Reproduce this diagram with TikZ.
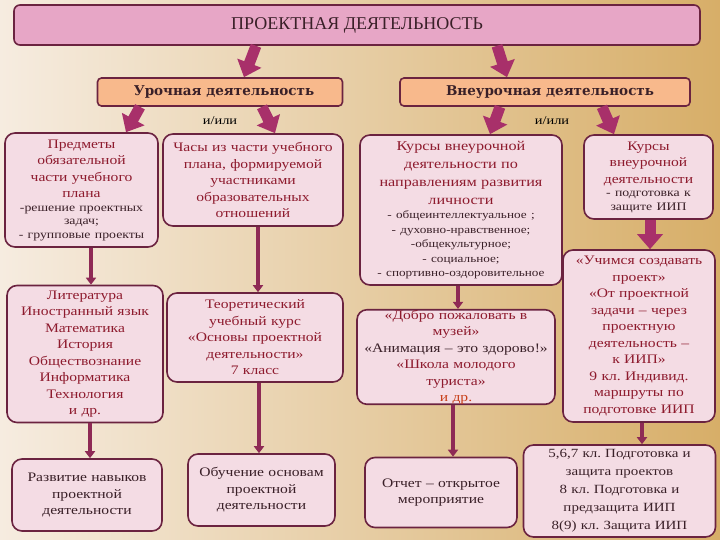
\documentclass[tikz,border=0pt]{standalone}
\usepackage{fontspec}
\setmainfont[FakeStretch=1.2]{Liberation Serif}
\newfontfamily\titlefont{Liberation Serif}
\newfontfamily\headfont{DejaVu Serif}
\usetikzlibrary{arrows.meta}
\definecolor{bgl}{HTML}{F6ECE0}
\definecolor{bgm}{HTML}{EBD3AE}
\definecolor{bgr}{HTML}{D7AE68}
\definecolor{bord}{HTML}{6B2340}
\definecolor{boxfill}{HTML}{F4DCE4}
\definecolor{titlefill}{HTML}{E7A6C6}
\definecolor{headfill}{HTML}{F8B98C}
\definecolor{arrowc}{HTML}{A8306A}
\definecolor{arrowt}{HTML}{8E2A55}
\definecolor{textred}{HTML}{8E1B2E}
\definecolor{textdark}{HTML}{3A2028}
\definecolor{textorange}{HTML}{C8401A}
\tikzset{
  bx/.style={draw=bord, line width=1.6pt, fill=boxfill, rounded corners=10pt,
    align=center, inner xsep=3pt, inner ysep=0pt, text=textred,
    font=\frenchspacing\fontsize{13}{16.5}\selectfont},
  hd/.style={draw=bord, line width=1.6pt, fill=headfill, rounded corners=4pt,
    text=textdark, font=\headfont\bfseries\fontsize{13.5}{16}\selectfont},
  fat/.style={line width=11pt, draw=arrowc, -{Triangle[width=25pt,length=15pt]}},
  thinarr/.style={line width=3.5pt, draw=arrowt, -{Triangle[width=10pt,length=7pt]}},
  lbl/.style={text=black, font=\fontsize{12}{14}\selectfont}
}
\newcommand{\smalldark}{\color{textdark}\fontsize{11.5}{13.5}\selectfont}
\begin{document}
\begin{tikzpicture}[x=1pt,y=-1pt]
\useasboundingbox (0,0) rectangle (720,540);
\shade[left color=bgl, middle color=bgm, right color=bgr] (0,0) rectangle (720,540);

% title
\node[draw=bord, line width=1.6pt, fill=titlefill, rounded corners=6pt,
  minimum width=686pt, minimum height=40pt, text=textdark,
  font=\titlefont\fontsize{18}{20}\selectfont] (title) at (357,25) {ПРОЕКТНАЯ ДЕЯТЕЛЬНОСТЬ};

% headers
\node[hd, minimum width=245pt, minimum height=28pt] (uroch) at (220,92) {\hspace*{8pt}Урочная деятельность};
\node[hd, minimum width=290pt, minimum height=28pt] (vne) at (545,92) {\hspace*{10pt}Внеурочная деятельность};

\node[lbl] (ili1) at (220,121) {и/или};
\node[lbl] (ili2) at (552,121) {и/или};

% row 1
\node[bx, minimum width=153pt, minimum height=114pt, text width=147pt] (A1) at (81.5,190)
 {Предметы\\обязательной\\части учебного\\плана\par
  {\smalldark -решение проектных\\задач;\\- групповые проекты\par}};
\node[bx, minimum width=180pt, minimum height=92pt, text width=174pt] (B1) at (253,180)
 {Часы из части учебного\\плана, формируемой\\участниками\\образовательных\\отношений};
\node[bx, minimum width=202pt, minimum height=150pt, text width=196pt] (C1) at (461,210)
 {{\fontsize{13.5}{18}\selectfont Курсы внеурочной\\деятельности по\\направлениям развития\\личности\par}
  {\smalldark\fontsize{11}{14.5}\selectfont - общеинтеллектуальное ;\\- духовно-нравственное;\\-общекультурное;\\- социальное;\\- спортивно-оздоровительное\par}};
\node[bx, minimum width=129pt, minimum height=84pt, text width=123pt] (D1) at (648.5,177)
 {Курсы\\внеурочной\\деятельности\par
  {\smalldark - подготовка к\\защите ИИП\par}};

% row 2
\node[bx, minimum width=156pt, minimum height=137pt, text width=150pt] (A2) at (85,354)
 {Литература\\Иностранный язык\\Математика\\История\\Обществознание\\Информатика\\Технология\\и др.};
\node[bx, minimum width=176pt, minimum height=89pt, text width=170pt] (B2) at (255,337.5)
 {Теоретический\\учебный курс\\«Основы проектной\\деятельности»\\7 класс};
\node[bx, minimum width=198pt, minimum height=82pt, text width=192pt] (C2) at (456,357)
 {«Добро пожаловать в\\музей»\\{\color{textdark}«Анимация – это здорово!»}\\«Школа молодого\\туриста»\\{\color{textorange}и др.}};
\node[bx, minimum width=152pt, minimum height=172pt, text width=146pt] (D2) at (639,336)
 {«Учимся создавать\\проект»\\«От проектной\\задачи – через\\проектную\\деятельность –\\к ИИП»\\9 кл. Индивид.\\маршруты по\\подготовке ИИП};

% row 3
\node[bx, text=textdark, minimum width=150pt, minimum height=72pt, text width=144pt] (A3) at (87,495)
 {Развитие навыков\\проектной\\деятельности};
\node[bx, text=textdark, minimum width=147pt, minimum height=72pt, text width=141pt] (B3) at (261.5,490)
 {Обучение основам\\проектной\\деятельности};
\node[bx, text=textdark, minimum width=152pt, minimum height=70pt, text width=146pt] (C3) at (441,492.5)
 {Отчет – открытое\\мероприятие};
\node[bx, text=textdark, minimum width=192pt, minimum height=92pt, text width=186pt,
  font=\frenchspacing\fontsize{12.5}{18}\selectfont] (D3) at (619.5,491)
 {5,6,7 кл. Подготовка и\\защита проектов\\8 кл. Подготовка и\\предзащита ИИП\\8(9) кл. Защита ИИП};

% fat arrows
\draw[fat] (title.south -| 256,0) -- (uroch.north -| 244,0);
\draw[fat] (title.south -| 497,0) -- (vne.north -| 507,0);
\draw[fat] (uroch.south -| 140,0) -- (A1.north -| 126,0);
\draw[fat] (uroch.south -| 262,0) -- (B1.north -| 275,0);
\draw[fat] (vne.south -| 500,0) -- (C1.north -| 490,0);
\draw[fat] (vne.south -| 602,0) -- (D1.north -| 614,0);
\draw[fat] (D1.south -| 650,0) -- (D2.north -| 650,0);

% thin arrows
\draw[thinarr] (A1.south -| 91,0) -- (A2.north -| 91,0);
\draw[thinarr] (A2.south -| 90,0) -- (A3.north -| 90,0);
\draw[thinarr] (B1.south -| 258,0) -- (B2.north -| 258,0);
\draw[thinarr] (B2.south -| 259,0) -- (B3.north -| 259,0);
\draw[thinarr] (C1.south -| 458,0) -- (C2.north -| 458,0);
\draw[thinarr] (C2.south -| 453,0) -- (C3.north -| 453,0);
\draw[thinarr] (D2.south -| 642,0) -- (D3.north -| 642,0);
\end{tikzpicture}
\end{document}
